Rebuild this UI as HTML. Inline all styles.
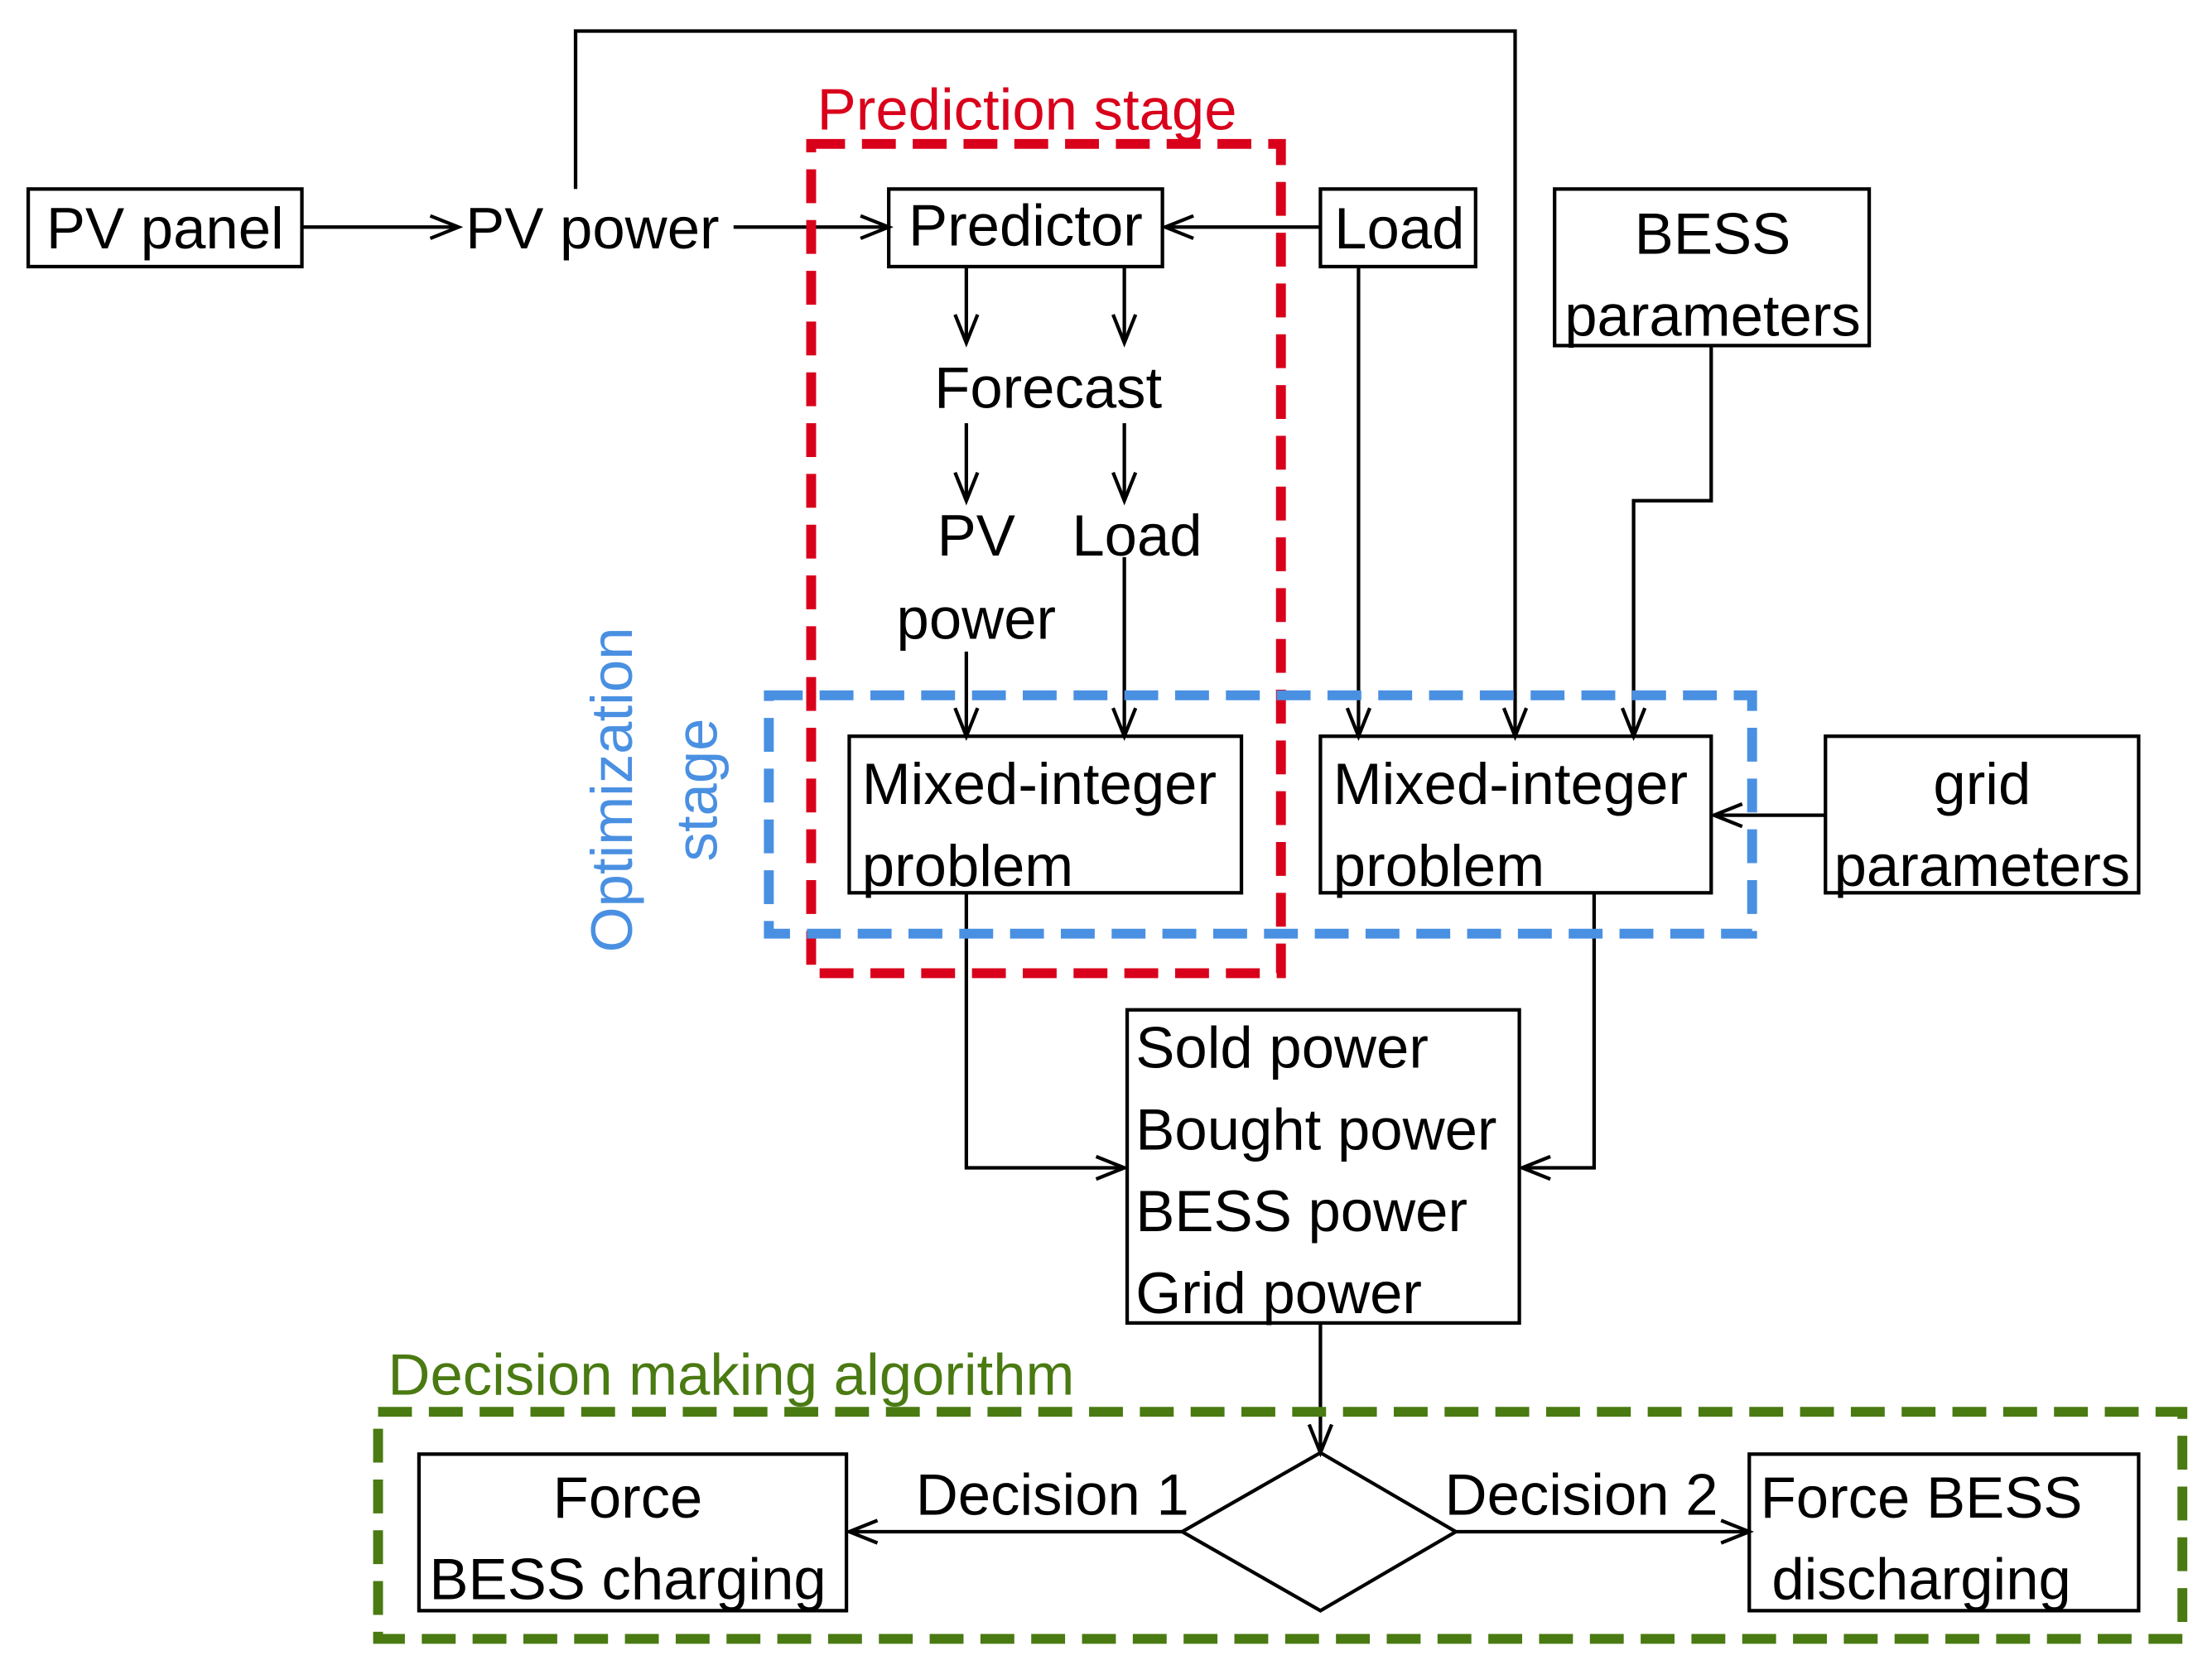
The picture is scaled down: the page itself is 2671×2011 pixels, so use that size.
<!DOCTYPE html>
<html><head><meta charset="utf-8"><style>html,body{margin:0;padding:0;background:#fff}svg{display:block}</style></head>
<body>
<svg width="2671" height="2011" viewBox="0 0 1568 1180.5" xmlns="http://www.w3.org/2000/svg" font-family="Liberation Sans, Arial, sans-serif" font-size="41.5">
<defs>
<marker id="a" markerWidth="30" markerHeight="20" refX="22" refY="10" orient="auto" markerUnits="userSpaceOnUse">
<path d="M2,2 L22,10 L2,18" fill="none" stroke="#000" stroke-width="2.5"/>
</marker>
</defs>
<rect width="1568" height="1181" fill="#fff"/>
<g fill="none" stroke="#000" stroke-width="2.5">
<rect x="20" y="134" width="194" height="55"/>
<rect x="630" y="134" width="194" height="55"/>
<rect x="936" y="134" width="110" height="55"/>
<rect x="1102" y="134" width="223" height="111"/>
<rect x="602" y="522" width="278" height="111"/>
<rect x="936" y="522" width="277" height="111"/>
<rect x="1294" y="522" width="222" height="111"/>
<rect x="799" y="716" width="278" height="222"/>
<rect x="297" y="1031" width="303" height="111"/>
<rect x="1240" y="1031" width="276" height="111"/>
<path d="M936,1030 L1032,1086 L936,1142 L838,1086 Z"/>
<line x1="214" y1="161" x2="325" y2="161" marker-end="url(#a)"/>
<line x1="520" y1="161" x2="630" y2="161" marker-end="url(#a)"/>
<polyline points="408,134 408,22 1074,22 1074,522" marker-end="url(#a)"/>
<line x1="936" y1="161" x2="826" y2="161" marker-end="url(#a)"/>
<line x1="685" y1="189" x2="685" y2="243" marker-end="url(#a)"/>
<line x1="797" y1="189" x2="797" y2="243" marker-end="url(#a)"/>
<line x1="685" y1="300" x2="685" y2="355" marker-end="url(#a)"/>
<line x1="797" y1="300" x2="797" y2="355" marker-end="url(#a)"/>
<line x1="685" y1="462" x2="685" y2="522" marker-end="url(#a)"/>
<line x1="797" y1="395" x2="797" y2="522" marker-end="url(#a)"/>
<line x1="963" y1="189" x2="963" y2="522" marker-end="url(#a)"/>
<polyline points="1213,245 1213,355 1158,355 1158,522" marker-end="url(#a)"/>
<line x1="1294" y1="578" x2="1215" y2="578" marker-end="url(#a)"/>
<polyline points="685,633 685,828 797,828" marker-end="url(#a)"/>
<polyline points="1130,633 1130,828 1079,828" marker-end="url(#a)"/>
<line x1="936" y1="938" x2="936" y2="1030" marker-end="url(#a)"/>
<line x1="838" y1="1086" x2="602" y2="1086" marker-end="url(#a)"/>
<line x1="1032" y1="1086" x2="1240" y2="1086" marker-end="url(#a)"/>
</g>
<rect x="575" y="102" width="333" height="588" fill="none" stroke="#d9001b" stroke-width="7" stroke-dasharray="24,12"/>
<rect x="545" y="493" width="697" height="169" fill="none" stroke="#4a90e2" stroke-width="7" stroke-dasharray="24,12"/>
<rect x="268" y="1001" width="1279" height="161" fill="none" stroke="#4a7a12" stroke-width="7" stroke-dasharray="24,12"/>
<g fill="#000">
<text x="117" y="176" text-anchor="middle">PV panel</text>
<text x="330" y="176">PV power</text>
<text x="727" y="174" text-anchor="middle">Predictor</text>
<text x="992" y="176" text-anchor="middle">Load</text>
<text x="1214" y="180" text-anchor="middle">BESS</text>
<text x="1214" y="238" text-anchor="middle">parameters</text>
<text x="743" y="289" text-anchor="middle">Forecast</text>
<text x="692" y="394" text-anchor="middle">PV</text>
<text x="692" y="453" text-anchor="middle">power</text>
<text x="806" y="394" text-anchor="middle">Load</text>
<text x="611" y="570">Mixed-integer</text>
<text x="611" y="628">problem</text>
<text x="945" y="570">Mixed-integer</text>
<text x="945" y="628">problem</text>
<text x="1405" y="570" text-anchor="middle">grid</text>
<text x="1405" y="628" text-anchor="middle">parameters</text>
<text x="805" y="757">Sold power</text>
<text x="805" y="815">Bought power</text>
<text x="805" y="873">BESS power</text>
<text x="805" y="931">Grid power</text>
<text x="445" y="1076" text-anchor="middle">Force</text>
<text x="445" y="1134" text-anchor="middle">BESS charging</text>
<text x="1362" y="1076" text-anchor="middle">Force BESS</text>
<text x="1362" y="1134" text-anchor="middle">discharging</text>
<text x="746" y="1074" text-anchor="middle">Decision 1</text>
<text x="1121" y="1074" text-anchor="middle">Decision 2</text>
</g>
<text x="728" y="92" text-anchor="middle" fill="#d9001b">Prediction stage</text>
<text x="275" y="989" fill="#4a7a12">Decision making algorithm</text>
<g fill="#4a90e2" text-anchor="middle">
<text transform="translate(448,560) rotate(-90)">Optimization</text>
<text transform="translate(508,560) rotate(-90)">stage</text>
</g>
</svg>
</body></html>
